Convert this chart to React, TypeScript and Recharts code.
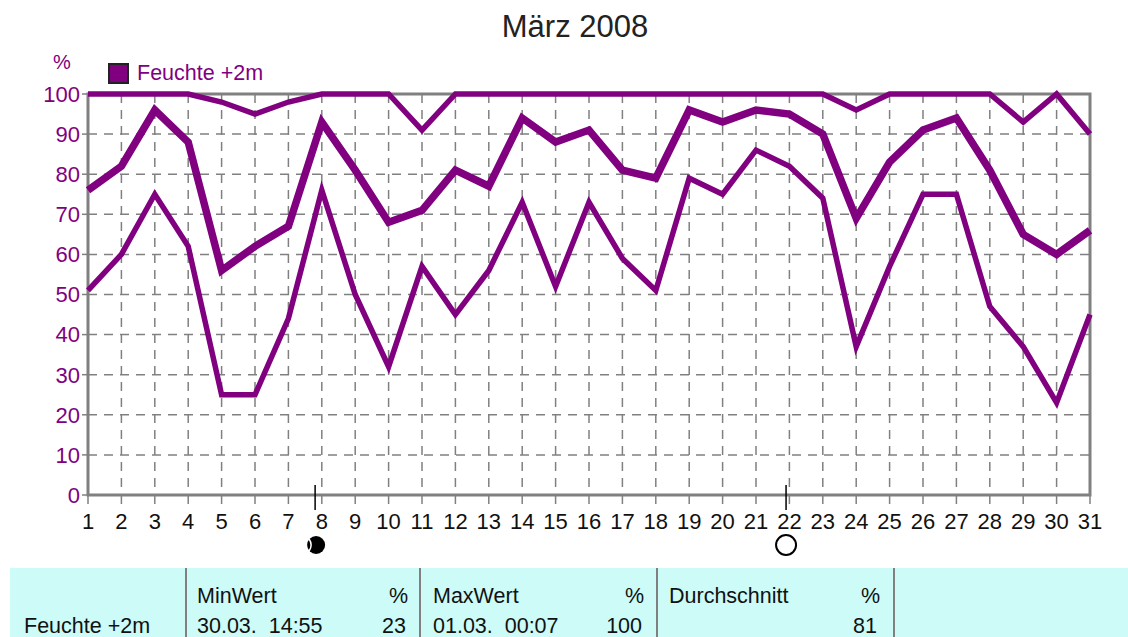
import React from 'react';
import { LineChart, Line, XAxis, YAxis, CartesianGrid, ReferenceArea, ReferenceDot } from 'recharts';

const days = [1, 2, 3, 4, 5, 6, 7, 8, 9, 10, 11, 12, 13, 14, 15, 16, 17, 18, 19, 20, 21, 22, 23, 24, 25, 26, 27, 28, 29, 30, 31];
const maxValues = [100, 100, 100, 100, 98, 95, 98, 100, 100, 100, 91, 100, 100, 100, 100, 100, 100, 100, 100, 100, 100, 100, 100, 96, 100, 100, 100, 100, 93, 100, 90];
const avgValues = [76, 82, 96, 88, 56, 62, 67, 93, 81, 68, 71, 81, 77, 94, 88, 91, 81, 79, 96, 93, 96, 95, 90, 69, 83, 91, 94, 81, 65, 60, 66];
const minValues = [51, 60, 75, 62, 25, 25, 44, 76, 50, 32, 57, 45, 56, 73, 52, 73, 59, 51, 79, 75, 86, 82, 74, 37, 57, 75, 75, 47, 37, 23, 45];
const yTicks = [0, 10, 20, 30, 40, 50, 60, 70, 80, 90, 100];
const newMoonDay = 7.8;
const fullMoonDay = 21.9;

const chartData = days.map((day, i) => ({ day, max: maxValues[i], avg: avgValues[i], min: minValues[i] }));

const PURPLE = '#800080';
const GRAY = '#808080';
const FONT = '"Liberation Sans", Arial, sans-serif';

const MoonMark = ({ cx, cy, filled }: any) => (
  <g>
    <line x1={cx} x2={cx} y1={cy - 10} y2={cy + 15} stroke="#000" strokeWidth={1.5} />
    {filled ? (
      <g>
        <circle cx={cx + 1} cy={cy + 50} r={9} fill="#000" />
        <path d={`M ${cx - 6} ${cy + 44} Q ${cx - 2} ${cy + 50} ${cx - 6} ${cy + 56}`} fill="none" stroke="#fff" strokeWidth={1.5} />
      </g>
    ) : (
      <circle cx={cx} cy={cy + 50} r={10} fill="#fff" stroke="#000" strokeWidth={2} />
    )}
  </g>
);

const label = (text: string, left: number, top: number, right?: boolean) => (
  <div
    style={{
      position: 'absolute',
      top,
      ...(right ? { right: 1128 - left } : { left }),
      fontSize: 21.5,
      lineHeight: '22px',
      color: '#111',
      whiteSpace: 'pre',
    }}
  >
    {text}
  </div>
);

export default function App() {
  return (
    <div style={{ position: 'absolute', left: 0, top: 0, width: 1128, height: 637, overflow: 'hidden', background: '#fff', fontFamily: FONT }}>
      <div style={{ position: 'absolute', left: 0, width: 1150, top: 9, textAlign: 'center', fontSize: 31, lineHeight: '36px', color: '#222' }}>
        März 2008
      </div>
      <div style={{ position: 'absolute', left: 53, top: 50, fontSize: 20, lineHeight: '24px', color: PURPLE }}>%</div>
      <div style={{ position: 'absolute', left: 108, top: 63, width: 17, height: 17, background: PURPLE, border: '2px solid #222' }} />
      <div style={{ position: 'absolute', left: 137, top: 61, fontSize: 21.5, lineHeight: '24px', color: PURPLE }}>
        Feuchte +2m
      </div>

      <LineChart width={1128} height={637} data={chartData} margin={{ top: 94, right: 38, bottom: 102, left: 48 }} style={{ position: 'absolute', left: 0, top: 0 }}>
        <CartesianGrid stroke={GRAY} strokeWidth={1.5} strokeDasharray="9 7" />
        <XAxis
          dataKey="day"
          type="number"
          domain={[1, 31]}
          ticks={days}
          interval={0}
          height={40}
          axisLine={false}
          tickLine={{ stroke: GRAY, strokeWidth: 1.5 }}
          tickSize={9}
          tickMargin={9}
          tick={{ fill: '#111', fontSize: 22, fontFamily: FONT }}
        />
        <YAxis
          domain={[0, 100]}
          ticks={yTicks}
          interval={0}
          width={40}
          axisLine={false}
          tickLine={{ stroke: GRAY, strokeWidth: 1.5 }}
          tickSize={6}
          tickMargin={2}
          tick={{ fill: PURPLE, fontSize: 22, fontFamily: FONT }}
        />
        <ReferenceArea x1={1} x2={31} y1={0} y2={100} fill="none" stroke={GRAY} strokeWidth={3} ifOverflow="visible" />
        <Line dataKey="max" stroke={PURPLE} strokeWidth={5.5} dot={false} isAnimationActive={false} />
        <Line dataKey="avg" stroke={PURPLE} strokeWidth={7.5} dot={false} isAnimationActive={false} />
        <Line dataKey="min" stroke={PURPLE} strokeWidth={5.5} dot={false} isAnimationActive={false} />
        <ReferenceDot x={newMoonDay} y={0} ifOverflow="visible" shape={(p: any) => <MoonMark {...p} filled />} />
        <ReferenceDot x={fullMoonDay} y={0} ifOverflow="visible" shape={(p: any) => <MoonMark {...p} />} />
      </LineChart>

      <div style={{ position: 'absolute', left: 10, top: 568, width: 1118, height: 69, background: '#CCFBF8' }} />
      {[185, 419, 656, 893].map((x) => (
        <div key={x} style={{ position: 'absolute', left: x, top: 568, width: 2, height: 69, background: GRAY }} />
      ))}
      {label('Feuchte +2m', 24, 615)}
      {label('MinWert', 197, 585)}
      {label('%', 408, 585, true)}
      {label('30.03.  14:55', 197, 615)}
      {label('23', 406, 615, true)}
      {label('MaxWert', 433, 585)}
      {label('%', 644, 585, true)}
      {label('01.03.  00:07', 433, 615)}
      {label('100', 642, 615, true)}
      {label('Durchschnitt', 669, 585)}
      {label('%', 880, 585, true)}
      {label('81', 877, 615, true)}
    </div>
  );
}
